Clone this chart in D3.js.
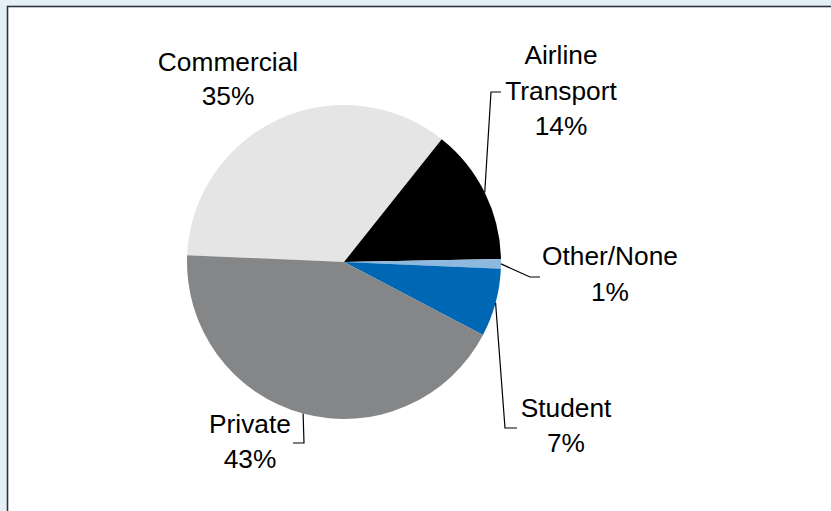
<!DOCTYPE html>
<html>
<head>
<meta charset="utf-8">
<script src="https://cdn.jsdelivr.net/npm/d3@7"></script>
<style>
  html, body { margin: 0; padding: 0; background: #e5f0f6; }
  svg { display: block; }
</style>
</head>
<body>
<svg id="chart" width="831" height="511"></svg>
<script>
// Pilot certificate categories and their shares (percent)
const categories = ["Commercial", "Airline\nTransport", "Other/None", "Student", "Private"];
const shares = [35, 14, 1, 7, 43];
const colors = ["#e5e5e5", "#000000", "#8db9df", "#0067b4", "#858688"];

// Label placement: centre/baseline of the first text line and the elbow of each leader line
const labelLayout = [
  { x: 228, y: 71,  gap: 34 },
  { x: 561, y: 64,  gap: 35.5, elbow: [491, 92],  end: [501, 92] },
  { x: 610, y: 265, gap: 36,   elbow: [530, 277], end: [540, 277] },
  { x: 566, y: 417, gap: 35,   elbow: [505, 428], end: [517, 428] },
  { x: 250, y: 433, gap: 35,   elbow: [304, 443], end: [293, 443] }
];

const width = 831, height = 511;
const cx = 344, cy = 262, radius = 157;

const svg = d3.select("#chart");

// Panel frame
svg.append("rect")
  .attr("x", 7.5).attr("y", 6.5)
  .attr("width", width + 10).attr("height", height + 10)
  .attr("fill", "#ffffff")
  .attr("stroke", "#2f3238")
  .attr("stroke-width", 1.6);

const data = categories.map((c, i) => ({ name: c, value: shares[i], color: colors[i], layout: labelLayout[i] }));

const start = -87.5 * Math.PI / 180;
const pie = d3.pie().sort(null).value(d => d.value)
  .startAngle(start).endAngle(start + 2 * Math.PI);
const arc = d3.arc().innerRadius(0).outerRadius(radius);

const g = svg.append("g").attr("transform", `translate(${cx},${cy})`);
const arcs = pie(data);

g.selectAll("path.slice")
  .data(arcs)
  .join("path")
  .attr("class", "slice")
  .attr("d", arc)
  .attr("fill", d => d.data.color);

// Leader lines from slice edge to the label elbows
const edge = d => {
  const a = (d.startAngle + d.endAngle) / 2;
  return [cx + radius * Math.sin(a), cy - radius * Math.cos(a)];
};
svg.selectAll("path.leader")
  .data(arcs.filter(d => d.data.layout.elbow))
  .join("path")
  .attr("class", "leader")
  .attr("fill", "none")
  .attr("stroke", "#000")
  .attr("stroke-width", 1.2)
  .attr("d", d => d3.line()([edge(d), d.data.layout.elbow, d.data.layout.end]));

// Category and percentage labels
const labels = svg.selectAll("text.label")
  .data(arcs)
  .join("text")
  .attr("class", "label")
  .attr("text-anchor", "middle")
  .attr("font-family", "Liberation Sans, Arial, sans-serif")
  .attr("font-size", 26.3)
  .attr("fill", "#000");

labels.each(function(d) {
  const t = d3.select(this);
  const lay = d.data.layout;
  const lines = d.data.name.split("\n").concat([d3.format(".0f")(d.data.value) + "%"]);
  lines.forEach((s, i) => {
    t.append("tspan")
      .attr("x", lay.x)
      .attr("y", lay.y + i * lay.gap)
      .text(s);
  });
});
</script>
</body>
</html>
